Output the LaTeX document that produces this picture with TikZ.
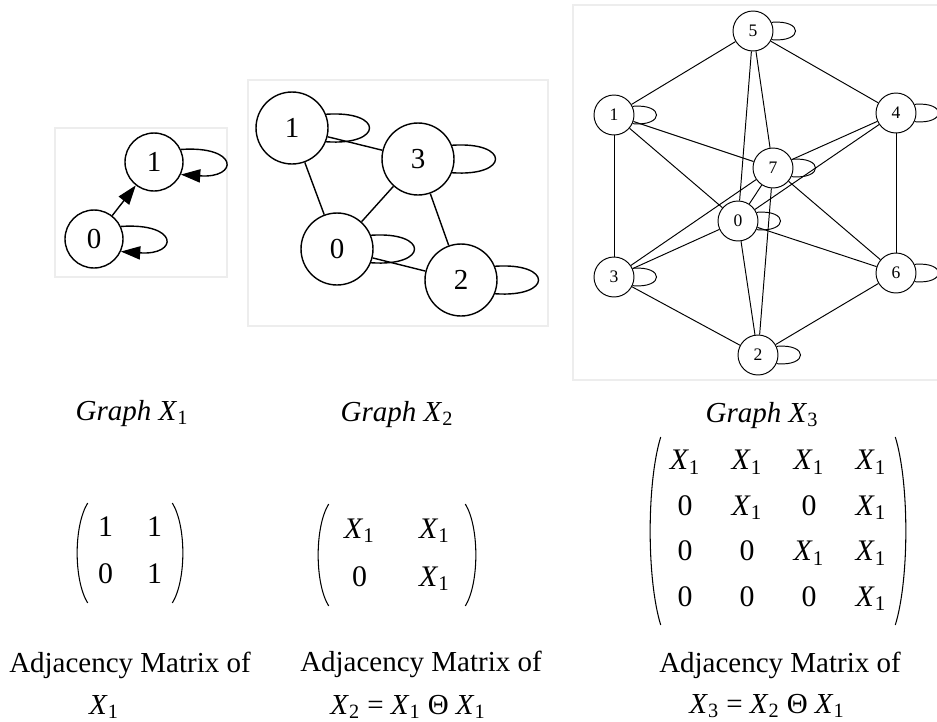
\documentclass[tikz,border=0pt]{standalone}
\usepackage{fontspec}
\setmainfont{Liberation Serif}
\usepackage{amsmath}
\usetikzlibrary{arrows.meta,matrix}
\newcommand{\Xsub}[1]{\textit{X}\ensuremath{_{\text{#1}}}}

\begin{document}
\begin{tikzpicture}[x=0.02cm,y=-0.02cm,
    font=\fontsize{16.5}{19}\selectfont,
    vbig/.style={circle,draw,line width=0.8pt,minimum size=1.16cm,inner sep=0pt},
    vmid/.style={circle,draw,line width=0.8pt,minimum size=1.44cm,inner sep=0pt},
    vsmall/.style={circle,draw,line width=0.55pt,minimum size=0.8cm,inner sep=0pt,
      font=\fontsize{10}{12}\selectfont},
    bgbox/.style={draw=black!7,line width=0.6pt},
    arr/.style={-{Triangle[length=11pt,width=7.5pt]}},
    paren/.style={line width=0.6pt},
    adjmat/.style={matrix of nodes,inner sep=0pt,
      nodes={inner sep=0pt,text height=12pt,text depth=4pt,
        font=\fontsize{17}{20}\selectfont}}]
  \useasboundingbox (0,0) rectangle (937,721);
  % --- faint frames of the three graph pictures ---
  \draw[bgbox] (55,128) rectangle (227,277);
  \draw[bgbox] (248,80) rectangle (548,326);
  \draw[bgbox] (573,5) rectangle (945,380);
  % --- graph X_1 (directed) ---
  \node[vbig] (ga0) at (94,239) {0};
  \node[vbig] (ga1) at (154,162) {1};
  \draw[line width=0.8pt,arr] (ga0) -- (ga1);
  \draw[line width=0.8pt,arr] (ga1.25) .. controls +(58,-4) and +(58,4) .. (ga1.-25);
  \draw[line width=0.8pt,arr] (ga0.25) .. controls +(58,-4) and +(58,4) .. (ga0.-25);
  % --- graph X_2 ---
  \node[vmid] (gb1) at (292,128) {1};
  \node[vmid] (gb3) at (418,159) {3};
  \node[vmid] (gb0) at (337,249) {0};
  \node[vmid] (gb2) at (461,280) {2};
  \foreach \a/\b in {1/3,1/0,3/0,3/2,0/2}
    \draw[line width=0.8pt] (gb\a) -- (gb\b);
  \foreach \n in {0,...,3}
    \draw[line width=0.8pt] (gb\n.22) .. controls +(58,-4) and +(58,4) .. (gb\n.-22);
  % --- graph X_3 ---
  \node[vsmall] (gc5) at (753,31) {5};
  \node[vsmall] (gc1) at (614,115) {1};
  \node[vsmall] (gc4) at (896,113) {4};
  \node[vsmall] (gc7) at (773,168) {7};
  \node[vsmall] (gc0) at (738,221) {0};
  \node[vsmall] (gc3) at (614,277) {3};
  \node[vsmall] (gc6) at (896,273) {6};
  \node[vsmall] (gc2) at (758,355) {2};
  \foreach \a/\b in {0/1,0/2,0/3,0/4,0/5,0/6,0/7,1/3,1/5,1/7,2/3,2/6,2/7,3/7,4/5,4/6,4/7,5/7,6/7}
    \draw[line width=0.55pt] (gc\a) -- (gc\b);
  \foreach \n in {0,...,7}
    \draw[line width=0.55pt] (gc\n.25) .. controls +(32,-3) and +(32,3) .. (gc\n.-25);
  % --- captions of the graphs ---
  \node[anchor=base] (cap1) at (132,420) {\textit{Graph} \Xsub{1}};
  \node[anchor=base] (cap2) at (397,421) {\textit{Graph} \Xsub{2}};
  \node[anchor=base] (cap3) at (762,422) {\textit{Graph} \Xsub{3}};
  % --- adjacency matrices ---
  \matrix (mat1) [adjmat,nodes={minimum width=0.98cm,minimum height=0.94cm}] at (130,553)
    {1 & 1\\ 0 & 1\\};
  \matrix (mat2) [adjmat,nodes={minimum width=1.5cm,minimum height=0.96cm}] at (397,555)
    {\Xsub{1} & \Xsub{1}\\ 0 & \Xsub{1}\\};
  \matrix (mat3) [adjmat,nodes={minimum width=1.24cm,minimum height=0.91cm}] at (778,531)
    {\Xsub{1} & \Xsub{1} & \Xsub{1} & \Xsub{1}\\
     0 & \Xsub{1} & 0 & \Xsub{1}\\
     0 & 0 & \Xsub{1} & \Xsub{1}\\
     0 & 0 & 0 & \Xsub{1}\\};
  % thin round brackets round each matrix
  \foreach \m/\h in {mat1/13pt,mat2/13pt,mat3/26pt} {
    \draw[paren] ([xshift=4pt,yshift=1.5pt]\m.north west) .. controls +(-8pt,-\h) and +(-8pt,\h) .. ([xshift=4pt,yshift=-1.5pt]\m.south west);
    \draw[paren] ([xshift=-4pt,yshift=1.5pt]\m.north east) .. controls +(8pt,-\h) and +(8pt,\h) .. ([xshift=-4pt,yshift=-1.5pt]\m.south east);
  }
  % --- captions of the matrices ---
  \node[anchor=base] (adj1) at (130,672) {Adjacency Matrix of};
  \node[anchor=base] (lbl1) at (104,714) {\Xsub{1}};
  \node[anchor=base] (adj2) at (421,671) {Adjacency Matrix of};
  \node[anchor=base] (lbl2) at (408,714) {\Xsub{2} = \Xsub{1} Θ \Xsub{1}};
  \node[anchor=base] (adj3) at (780,672) {Adjacency Matrix of};
  \node[anchor=base] (lbl3) at (767,713) {\Xsub{3} = \Xsub{2} Θ \Xsub{1}};
\end{tikzpicture}
\end{document}
